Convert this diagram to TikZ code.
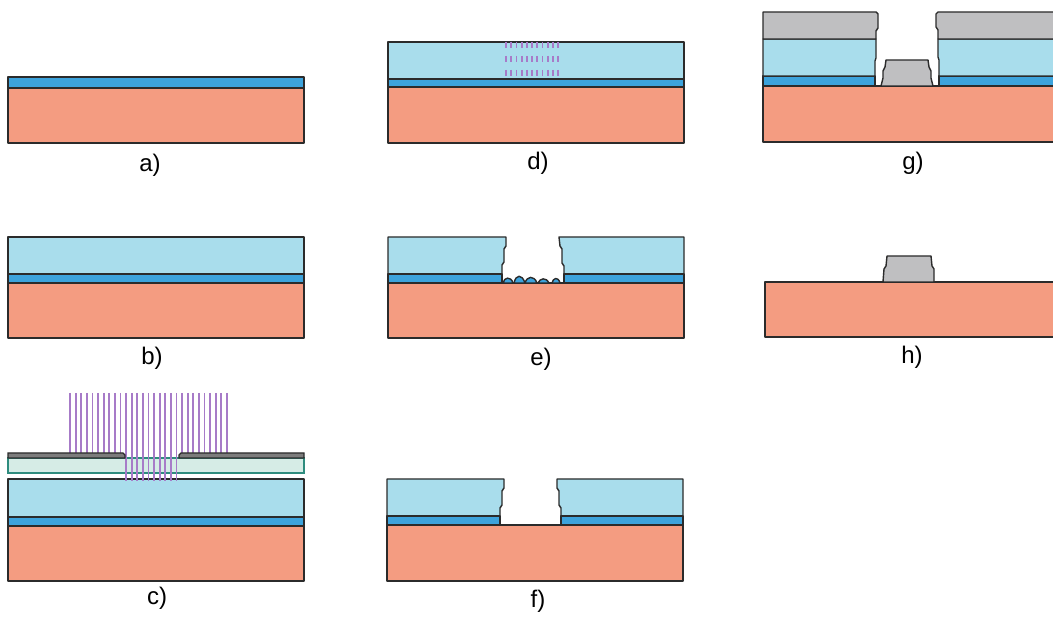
\documentclass[tikz,border=0pt]{standalone}
\usepackage{fontspec}
\setmainfont{Liberation Sans}
\usetikzlibrary{positioning}

\definecolor{substrate}{HTML}{F49C81}
\definecolor{core}{HTML}{A9DDEC}
\definecolor{film}{HTML}{3DA3DC}
\definecolor{resist}{HTML}{BFBFC1}
\definecolor{glass}{HTML}{D6ECE6}
\definecolor{glassedge}{HTML}{2E8C7E}
\definecolor{mask}{HTML}{7C7C7C}
\definecolor{ray}{HTML}{A77BC8}
\definecolor{edge}{HTML}{2B2B2B}

\begin{document}
\begin{tikzpicture}[x=1pt,y=-1pt,
  sub/.style={fill=substrate,draw=edge,line width=1.4pt,line join=round},
  core/.style={fill=core,draw=edge,line width=1.4pt,line join=round},
  film/.style={fill=film,draw=edge,line width=1.4pt,line join=round},
  resist/.style={fill=resist,draw=edge,line width=1.4pt,line join=round},
  rays/.style={ray,line width=1.8pt},
  lbl/.style={anchor=base,inner sep=0pt,font=\fontsize{24}{28}\selectfont}]
 \clip (0,0) rectangle (1053,617);
 % a)
 \draw[sub](8,88) rectangle (304,143);
 \draw[film](8,77) rectangle (304,88);
 \node[lbl] (la) at (150,172) {a)};
 % b)
 \draw[sub](8,283) rectangle (304,338);
 \draw[film](8,274) rectangle (304,283);
 \draw[core](8,237) rectangle (304,274);
 \node[lbl] (lb) at (152,365) {b)};
 % c)
 \draw[sub](8,526) rectangle (304,581);
 \draw[film](8,517) rectangle (304,526);
 \draw[core](8,479) rectangle (304,517);
 \draw[fill=glass,draw=glassedge,line width=1.2pt](8,458) rectangle (304,473);
 \foreach \x in {70,75.6,...,232}
   \draw[rays](\x,393)--(\x,453);
 \foreach \x in {126,131.6,...,177}
   \draw[rays](\x,453)--(\x,481);
 \draw[fill=mask,draw=edge,line width=1.4pt](8,453)--(123,453)--(125,455)--(125,458)--(8,458)--cycle;
 \draw[fill=mask,draw=edge,line width=1.4pt](181,453)--(304,453)--(304,458)--(179,458)--(179,455)--cycle;
 \node[lbl] (lc) at (157,605) {c)};
 % d)
 \draw[sub](388,87) rectangle (684,143);
 \draw[film](388,79) rectangle (684,87);
 \draw[core](388,42) rectangle (684,79);
 \foreach \x in {506,511.2,...,559}
   \foreach \y in {42,56,70}
     \draw[rays](\x,\y)--(\x,\y+6.5);
 \node[lbl] (ld) at (538,170) {d)};
 % e)
 \draw[sub](388,283) rectangle (684,338);
 \draw[core](388,237)--(506,237)--(506,246)--(504,249)--(504,262)--(502,265)--(502,274)--(388,274)--cycle;
 \draw[core](559,237)--(684,237)--(684,274)--(564,274)--(564,266)--(562,263)--(562,249)--(560,246)--cycle;
 \draw[film](388,274) rectangle (502,283);
 \draw[film](564,274) rectangle (684,283);
 % leftover film after etching
 \draw[film](503,283) .. controls (504,277) and (511,276) .. (513,283)--cycle;
 \draw[film](514,283) .. controls (516,274) and (522,274) .. (525,283)--cycle;
 \draw[film](525,283) .. controls (527,276) and (534,275) .. (537,283)--cycle;
 \draw[film](538,283) .. controls (540,278) and (546,277) .. (549,283)--cycle;
 \draw[film](552,283) .. controls (553,278) and (558,276) .. (560,283)--cycle;
 \node[lbl] (le) at (541,366) {e)};
 % f)
 \draw[sub](387,525) rectangle (683,581);
 \draw[core](387,479)--(504,479)--(504,488)--(502,491)--(502,505)--(500,508)--(500,516)--(387,516)--cycle;
 \draw[core](557,479)--(683,479)--(683,516)--(561,516)--(561,508)--(559,505)--(559,491)--(557,488)--cycle;
 \draw[film](387,516) rectangle (500,525);
 \draw[film](561,516) rectangle (683,525);
 \node[lbl] (lf) at (538,607) {f)};
 % g)
 \draw[sub](763,86) rectangle (1060,142);
 \draw[film](763,76) rectangle (875,86);
 \draw[film](939,76) rectangle (1060,86);
 \draw[core](763,39)--(876,39)--(876,58)--(875,61)--(875,76)--(763,76)--cycle;
 \draw[core](938,39)--(1060,39)--(1060,76)--(939,76)--(939,60)--(938,57)--cycle;
 \draw[resist](763,12)--(876,12)--(878,14)--(878,28)--(876,31)--(876,39)--(763,39)--cycle;
 \draw[resist](938,12)--(1060,12)--(1060,39)--(938,39)--(938,30)--(936,27)--(936,14)--cycle;
 \draw[resist](881,86)--(883,78)--(883,71)--(885,67)--(886,60)--(928,60)--(929,67)--(931,71)--(931,78)--(933,86)--cycle;
 \node[lbl] (lg) at (913,170) {g)};
 % h)
 \draw[sub](765,282) rectangle (1060,337);
 \draw[resist](883,282)--(884,269)--(886,266)--(887,256)--(931,256)--(932,266)--(934,269)--(934,282)--cycle;
 \node[lbl] (lh) at (912,364) {h)};
\end{tikzpicture}
\end{document}
